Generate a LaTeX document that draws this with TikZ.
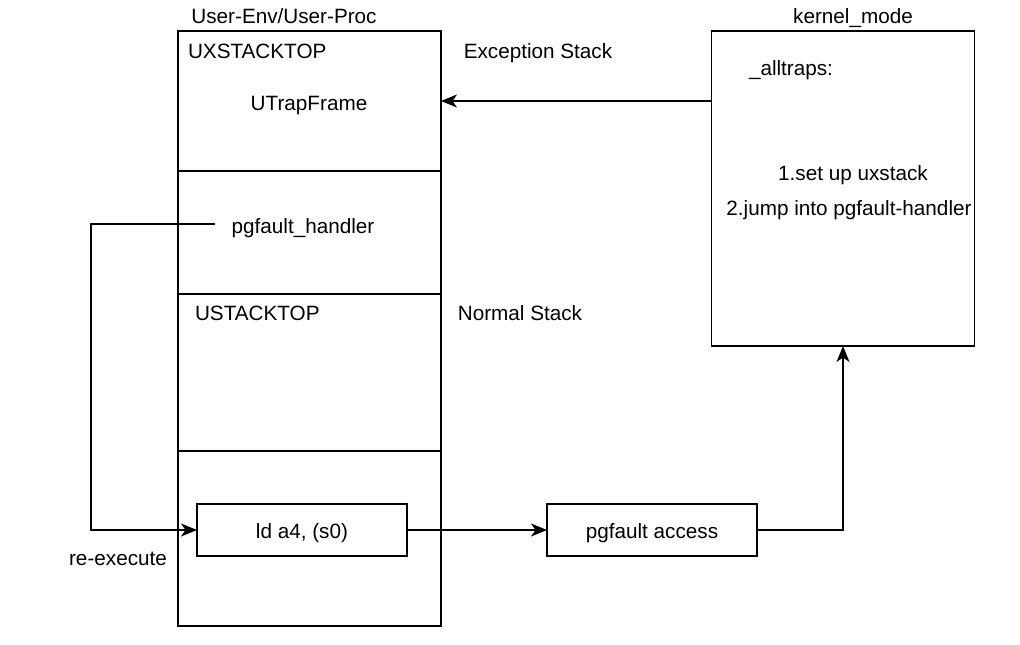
\documentclass[tikz,border=0pt]{standalone}
\usepackage{fontspec}
\setmainfont{Liberation Sans}
\usetikzlibrary{arrows.meta}

\tikzset{
  box/.style={draw=black,line width=1.4pt,inner sep=0pt,outer sep=0pt},
  lbl/.style={inner sep=0pt,outer sep=0pt,text height=15pt,text depth=4.5pt,
    font=\fontsize{20.7}{24.8}\selectfont},
  boxlbl/.style={lbl,text height=20pt,text depth=4pt},
  conn/.style={draw=black,line width=1.5pt,line join=miter},
  tip/.style={-{Stealth[length=16pt,width=13pt,inset=4.5pt]}}
}

\begin{document}
\begin{tikzpicture}[x=1pt,y=-1pt]
  \useasboundingbox (0,0) rectangle (1020,645);

  % user side stack
  \node[box,minimum width=263pt,minimum height=140pt] (uxsec) at (309.5,101) {};
  \node[box,minimum width=263pt,minimum height=123pt] (hdlsec) at (309.5,232.5) {};
  \node[box,minimum width=263pt,minimum height=157pt] (usec) at (309.5,372.5) {};
  \node[box,minimum width=263pt,minimum height=175pt] (codesec) at (309.5,538.5) {};

  % kernel side
  \node[box,minimum width=263pt,minimum height=315pt] (kernel) at (843,188.5) {};

  % small boxes
  \node[box,boxlbl,minimum width=210pt,minimum height=52pt] (ldinsn) at (302,530) {ld a4, (s0)};
  \node[box,boxlbl,minimum width=210pt,minimum height=52pt] (pgfacc) at (652,530) {pgfault access};

  % texts
  \node[lbl] (textuser) at (284,18) {User-Env/User-Proc};
  \node[lbl] (textkmode) at (853,18) {kernel\_mode};
  \node[lbl,anchor=west] (textuxtop) at (188,53) {UXSTACKTOP};
  \node[lbl] (texttrap) at (309,105) {UTrapFrame};
  \node[lbl] (texthdl) at (303,228) {pgfault\_handler};
  \node[lbl,anchor=west] (textutop) at (195,315) {USTACKTOP};
  \node[lbl] (textexc) at (538,53) {Exception Stack};
  \node[lbl] (textnorm) at (520,315) {Normal Stack};
  \node[lbl] (textalltr) at (791,70) {\_alltraps:};
  \node[lbl] (textstep1) at (853,175) {1.set up uxstack};
  \node[lbl] (textstep2) at (849,210) {2.jump into pgfault-handler};
  \node[lbl] (textreexe) at (118,560) {re-execute};

  \coordinate (hdlend) at (215,224);

  % connectors
  \draw[conn,tip] (kernel.west |- uxsec.east) -- (uxsec.east);
  \draw[conn,tip] (ldinsn.east) -- (pgfacc.west);
  \draw[conn,tip] (pgfacc.east) -| (kernel.south);
  \draw[conn,tip] (hdlend) -- (91,224) |- (ldinsn.west);

\end{tikzpicture}
\end{document}
